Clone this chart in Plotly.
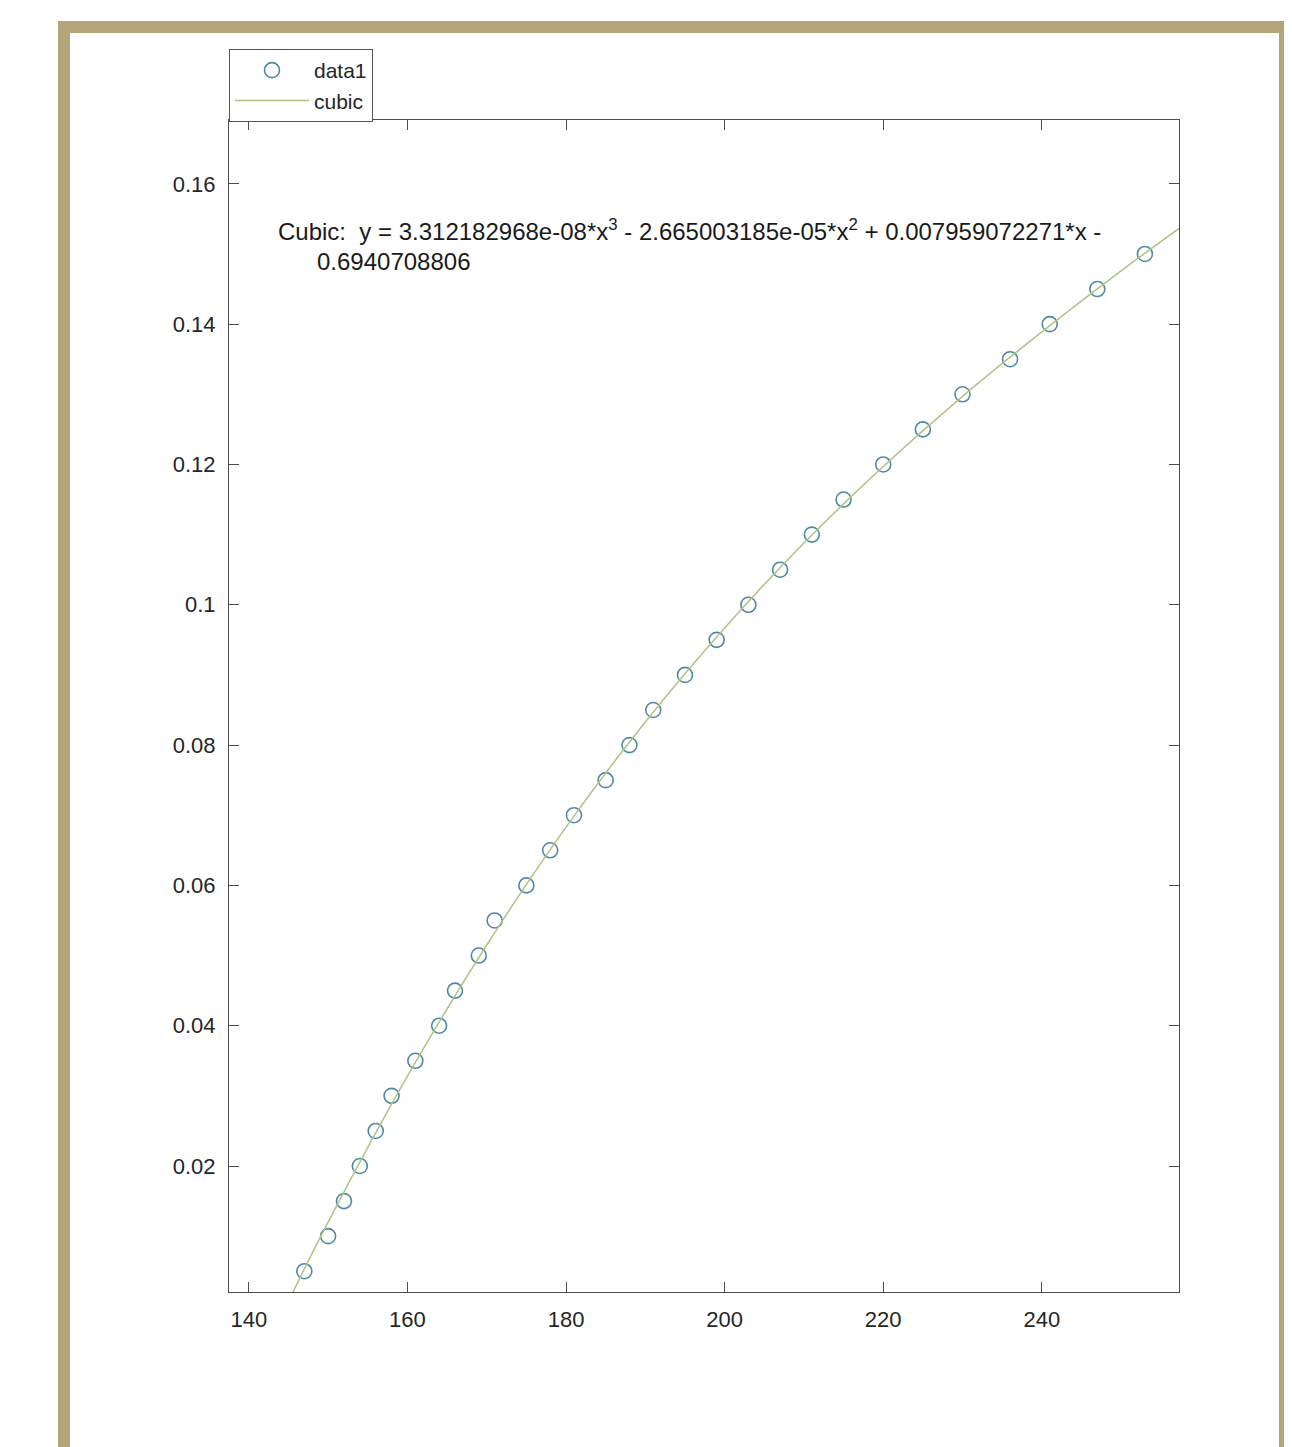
import plotly.graph_objects as go

# Data points
data_x = [147, 150, 152, 154, 156, 158, 161, 164, 166, 169, 171, 175, 178, 181,
          185, 188, 191, 195, 199, 203, 207, 211, 215, 220, 225, 230, 236, 241,
          247, 253]
data_y = [0.005, 0.010, 0.015, 0.020, 0.025, 0.030, 0.035, 0.040, 0.045, 0.050,
          0.055, 0.060, 0.065, 0.070, 0.075, 0.080, 0.085, 0.090, 0.095, 0.100,
          0.105, 0.110, 0.115, 0.120, 0.125, 0.130, 0.135, 0.140, 0.145, 0.150]

# Cubic fit curve
cubic_x = [137.5, 145, 150, 160, 170, 180, 190, 200, 210, 220, 230, 240, 250, 257.5]
cubic_y = [-0.0175, 0.0007, 0.0120, 0.0328, 0.0515, 0.0683, 0.0833, 0.0967,
           0.1088, 0.1197, 0.1297, 0.1389, 0.1476, 0.1538]

x_ticks = [140, 160, 180, 200, 220, 240]
y_ticks = [0.02, 0.04, 0.06, 0.08, 0.10, 0.12, 0.14, 0.16]
y_ticktext = ["0.02", "0.04", "0.06", "0.08", "0.1", "0.12", "0.14", "0.16"]

eq_line1 = "Cubic:  y = 3.312182968e-08*x<sup>3</sup> - 2.665003185e-05*x<sup>2</sup> + 0.007959072271*x -"
eq_line2 = "0.6940708806"

# page offset (body margin) between screen pixels and figure pixels
OFF = 8
W, H = 1276, 1439
L, R, T, B = 229 - OFF, 1179 - OFF, 120 - OFF, 1292 - OFF
pw, ph = R - L, B - T


def px_x(p):
    return (p - OFF - L) / pw


def px_y(p):
    return (B - (p - OFF)) / ph


font_family = "Liberation Sans, Arial, sans-serif"
axis_color = "#4d4d4d"

fig = go.Figure()
fig.add_trace(go.Scatter(
    x=data_x, y=data_y, mode="markers", name="data1",
    marker=dict(symbol="circle-open", size=15, color="#4f8aa3",
                line=dict(width=1.6, color="#4f8aa3")),
))
fig.add_trace(go.Scatter(
    x=cubic_x, y=cubic_y, mode="lines", name="cubic", line_shape="spline",
    line=dict(color="#b3c282", width=1.5),
))

fig.update_layout(
    width=W, height=H,
    margin=dict(l=L, r=W - R, t=T, b=H - B, pad=0),
    paper_bgcolor="white", plot_bgcolor="white",
    font=dict(family=font_family, color="#262626", size=22),
    showlegend=True,
    legend=dict(
        x=0, xanchor="left", y=px_y(49), yanchor="top",
        bordercolor="#555555", borderwidth=1, bgcolor="white",
        font=dict(size=21, color="#262626"),
        itemwidth=74, tracegroupgap=0,
        entrywidth=68, entrywidthmode="pixels",
    ),
    xaxis=dict(
        range=[137.5, 257.3], tickvals=x_ticks, ticks="inside", ticklen=10,
        tickcolor=axis_color, showline=True, linecolor=axis_color, linewidth=1,
        mirror="ticks", showgrid=False, zeroline=False, ticklabelstandoff=8,
        tickfont=dict(size=22, color="#262626"),
    ),
    yaxis=dict(
        range=[0.00204, 0.1691], tickvals=y_ticks, ticktext=y_ticktext,
        ticks="inside", ticklen=10, tickcolor=axis_color, showline=True,
        linecolor=axis_color, linewidth=1, mirror="ticks", showgrid=False,
        zeroline=False, ticklabelstandoff=8,
        tickfont=dict(size=22, color="#262626"),
    ),
    shapes=[dict(
        type="rect", xref="paper", yref="paper", layer="below",
        x0=px_x(64), x1=px_x(1285), y0=px_y(1470), y1=px_y(27),
        line=dict(color="#b5a57a", width=12), fillcolor="rgba(0,0,0,0)",
    )],
    annotations=[
        dict(xref="paper", yref="paper", x=px_x(276), y=px_y(247),
             xanchor="left", yanchor="bottom", text=eq_line1, showarrow=False,
             font=dict(size=24, color="#1a1a1a"), align="left"),
        dict(xref="paper", yref="paper", x=px_x(315), y=px_y(277),
             xanchor="left", yanchor="bottom", text=eq_line2, showarrow=False,
             font=dict(size=24, color="#1a1a1a"), align="left"),
    ],
)

fig.write_html("out.html")
